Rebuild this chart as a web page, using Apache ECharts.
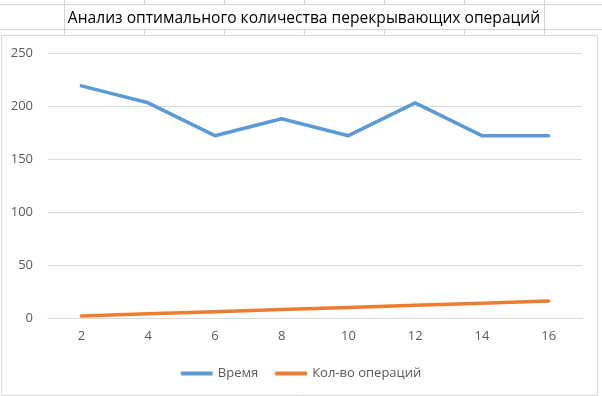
<!DOCTYPE html>
<html>
<head>
<meta charset="utf-8">
<script src="https://cdn.jsdelivr.net/npm/echarts@6/dist/echarts.min.js"></script>
<style>
html,body{margin:0;padding:0;background:#fff;}
#c{width:602px;height:396px;}
</style>
</head>
<body>
<div id="c"></div>
<script>
const titleText = 'Анализ оптимального количества перекрывающих операций';
const categories = ['2', '4', '6', '8', '10', '12', '14', '16'];
const seriesNames = ['Время', 'Кол-во операций'];
const timeValues = [219, 203, 172, 188, 172, 203, 172, 172];
const opsValues = [2, 4, 6, 8, 10, 12, 14, 16];

const chart = echarts.init(document.getElementById('c'), null, {renderer: 'canvas'});

const sheetLine = '#d4d4d4';
const graphics = [];
// spreadsheet background
graphics.push({type: 'line', shape: {x1: 0, y1: 4.5, x2: 602, y2: 4.5}, style: {stroke: sheetLine, lineWidth: 1}, z: -10});
graphics.push({type: 'line', shape: {x1: 0, y1: 29.5, x2: 602, y2: 29.5}, style: {stroke: sheetLine, lineWidth: 1}, z: -10});
[64, 144, 224, 304, 384, 464, 544].forEach(function (x) {
  graphics.push({type: 'line', shape: {x1: x + 0.5, y1: 0, x2: x + 0.5, y2: 4}, style: {stroke: sheetLine, lineWidth: 1}, z: -10});
  graphics.push({type: 'line', shape: {x1: x + 0.5, y1: 29, x2: x + 0.5, y2: 35}, style: {stroke: sheetLine, lineWidth: 1}, z: -10});
});
graphics.push({type: 'line', shape: {x1: 64.5, y1: 4, x2: 64.5, y2: 29}, style: {stroke: sheetLine, lineWidth: 1}, z: -10});
graphics.push({type: 'line', shape: {x1: 544.5, y1: 4, x2: 544.5, y2: 29}, style: {stroke: sheetLine, lineWidth: 1}, z: -10});
// chart box
graphics.push({type: 'rect', shape: {x: 1.5, y: 35.5, width: 596, height: 360}, style: {fill: '#ffffff', stroke: '#d9d9d9', lineWidth: 1}, z: -5});

chart.setOption({
  animation: false,
  backgroundColor: '#ffffff',
  graphic: graphics,
  title: {
    text: titleText,
    left: 299,
    textAlign: 'center',
    top: 6,
    textStyle: {fontFamily: 'Open Sans', fontSize: 15.6, fontWeight: 'normal', color: '#000000'}
  },
  grid: {left: 48, right: 20, top: 53, bottom: 78, containLabel: false},
  legend: {
    data: seriesNames,
    left: 'center',
    top: 362,
    icon: 'roundRect',
    itemWidth: 32,
    itemHeight: 4,
    itemGap: 17,
    textStyle: {fontFamily: 'Open Sans', fontSize: 13, color: '#595959'}
  },
  xAxis: {
    type: 'category',
    data: categories,
    boundaryGap: true,
    axisLine: {lineStyle: {color: '#d9d9d9', width: 1}},
    axisTick: {show: false},
    axisLabel: {fontFamily: 'Open Sans', fontSize: 13, color: '#595959', margin: 12}
  },
  yAxis: {
    type: 'value',
    min: 0,
    max: 250,
    interval: 50,
    axisLine: {show: false},
    axisTick: {show: false},
    splitLine: {lineStyle: {color: '#d9d9d9', width: 1}},
    axisLabel: {fontFamily: 'Open Sans', fontSize: 13, color: '#595959', margin: 15}
  },
  series: [
    {
      name: seriesNames[0],
      type: 'line',
      data: timeValues,
      symbol: 'none',
      color: '#5B9BD5',
      lineStyle: {width: 3.5, color: '#5B9BD5', cap: 'round', join: 'round'}
    },
    {
      name: seriesNames[1],
      type: 'line',
      data: opsValues,
      symbol: 'none',
      color: '#ED7D31',
      lineStyle: {width: 3.5, color: '#ED7D31', cap: 'round', join: 'round'}
    }
  ]
});
</script>
</body>
</html>
